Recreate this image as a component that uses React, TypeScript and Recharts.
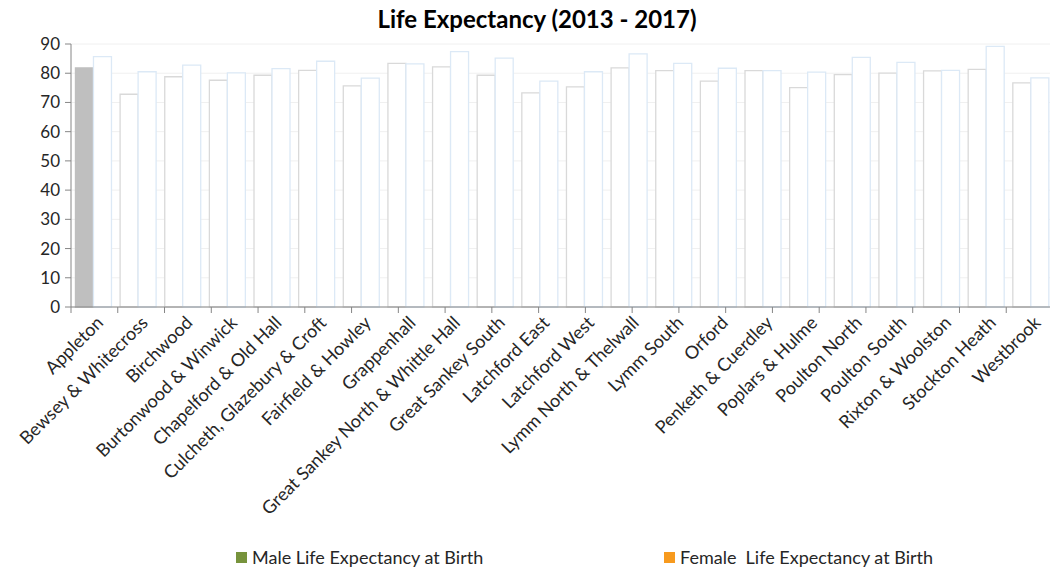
import React from "react";
import { BarChart, Bar, XAxis, YAxis, CartesianGrid, Legend, Cell } from "recharts";

const categories = [
  "Appleton", "Bewsey & Whitecross", "Birchwood", "Burtonwood & Winwick", "Chapelford & Old Hall",
  "Culcheth, Glazebury & Croft", "Fairfield & Howley", "Grappenhall", "Great Sankey North & Whittle Hall",
  "Great Sankey South", "Latchford East", "Latchford West", "Lymm North & Thelwall", "Lymm South",
  "Orford", "Penketh & Cuerdley", "Poplars & Hulme", "Poulton North", "Poulton South",
  "Rixton & Woolston", "Stockton Heath", "Westbrook",
];
const maleValues = [81.8, 72.8, 78.8, 77.6, 79.3, 81.0, 75.7, 83.4, 82.2, 79.3, 73.3, 75.3, 81.8, 80.9, 77.3, 80.9, 75.1, 79.5, 80.0, 80.8, 81.3, 76.7];
const femaleValues = [85.7, 80.5, 82.8, 80.1, 81.6, 84.1, 78.3, 83.2, 87.4, 85.2, 77.3, 80.5, 86.6, 83.4, 81.7, 80.9, 80.4, 85.4, 83.7, 81.0, 89.2, 78.4];
const yTicks = [0, 10, 20, 30, 40, 50, 60, 70, 80, 90];
const seriesNames = ["Male Life Expectancy at Birth", "Female  Life Expectancy at Birth"];
const seriesColors = ["#77933c", "#f79a1e"];
const highlighted = ["Appleton"];

const data = categories.map((c, i) => ({ name: c, male: maleValues[i], female: femaleValues[i] }));
const boundaries = [...categories.map((_, i) => i), categories.length];

const FONT = "Lato, 'Open Sans', sans-serif";

const XTick = (props: any) => {
  const { x, y, payload } = props;
  const ax = x + 6;
  const ay = y + 3;
  return (
    <text
      x={ax}
      y={ay}
      transform={`rotate(-45, ${ax}, ${ay})`}
      textAnchor="end"
      dominantBaseline="central"
      fontSize={18}
      fontFamily={FONT}
      fill="#262626"
    >
      {payload.value}
    </text>
  );
};

const LegendContent = () => {
  const lefts = [236, 664];
  return (
    <div style={{ position: "relative", height: 30, width: 1050 }}>
      {seriesNames.map((name, i) => (
        <div
          key={i}
          style={{
            position: "absolute",
            left: lefts[i],
            top: 5,
            display: "flex",
            alignItems: "center",
            fontFamily: FONT,
            fontSize: 18,
            color: "#262626",
            whiteSpace: "pre",
          }}
        >
          <span style={{ display: "inline-block", width: 11, height: 11, background: seriesColors[i], marginRight: 5 }} />
          {name}
        </div>
      ))}
    </div>
  );
};

export default function App() {
  return (
    <div style={{ position: "absolute", left: 0, top: 0, width: 1050, height: 571, background: "#fff" }}>
      <div
        style={{
          position: "absolute",
          left: 0,
          top: 4,
          width: 1074,
          textAlign: "center",
          fontFamily: FONT,
          fontWeight: 700,
          fontSize: 24,
          color: "#000",
        }}
      >
        Life Expectancy (2013 - 2017)
      </div>
      <BarChart
        width={1050}
        height={571}
        data={data}
        margin={{ top: 44, right: -3, bottom: 0, left: 0 }}
        barCategoryGap="10%"
        barGap={0}
      >
        <CartesianGrid vertical={false} stroke="#f0f0f0" strokeWidth={1} />
        <XAxis
          xAxisId="bounds"
          type="number"
          domain={[0, categories.length]}
          ticks={boundaries}
          height={1}
          tick={() => <g />}
          tickSize={6}
          tickLine={{ stroke: "#868686" }}
          axisLine={{ stroke: "#868686" }}
          allowDataOverflow
        />
        <XAxis
          xAxisId="cat"
          dataKey="name"
          type="category"
          interval={0}
          height={233}
          tickLine={false}
          axisLine={false}
          tick={<XTick />}
        />
        <YAxis
          width={71}
          domain={[0, 90]}
          ticks={yTicks}
          tickSize={6}
          tickMargin={5}
          tickLine={{ stroke: "#868686" }}
          axisLine={{ stroke: "#868686" }}
          tick={{ fontSize: 17, fontFamily: FONT, fill: "#262626" }}
        />
        <Legend verticalAlign="bottom" content={<LegendContent />} height={30} />
        <Bar xAxisId="cat" dataKey="male" name={seriesNames[0]} fill={seriesColors[0]} isAnimationActive={false}>
          {data.map((d, i) => (
            <Cell
              key={i}
              fill={highlighted.includes(d.name) ? "#bfbfbf" : "#ffffff"}
              stroke={highlighted.includes(d.name) ? "#bfbfbf" : "#d9d9d9"}
              strokeWidth={1.3}
            />
          ))}
        </Bar>
        <Bar xAxisId="cat" dataKey="female" name={seriesNames[1]} fill={seriesColors[1]} isAnimationActive={false}>
          {data.map((d, i) => (
            <Cell key={i} fill="#ffffff" stroke="#dce9f6" strokeWidth={1.3} />
          ))}
        </Bar>
      </BarChart>
    </div>
  );
}
